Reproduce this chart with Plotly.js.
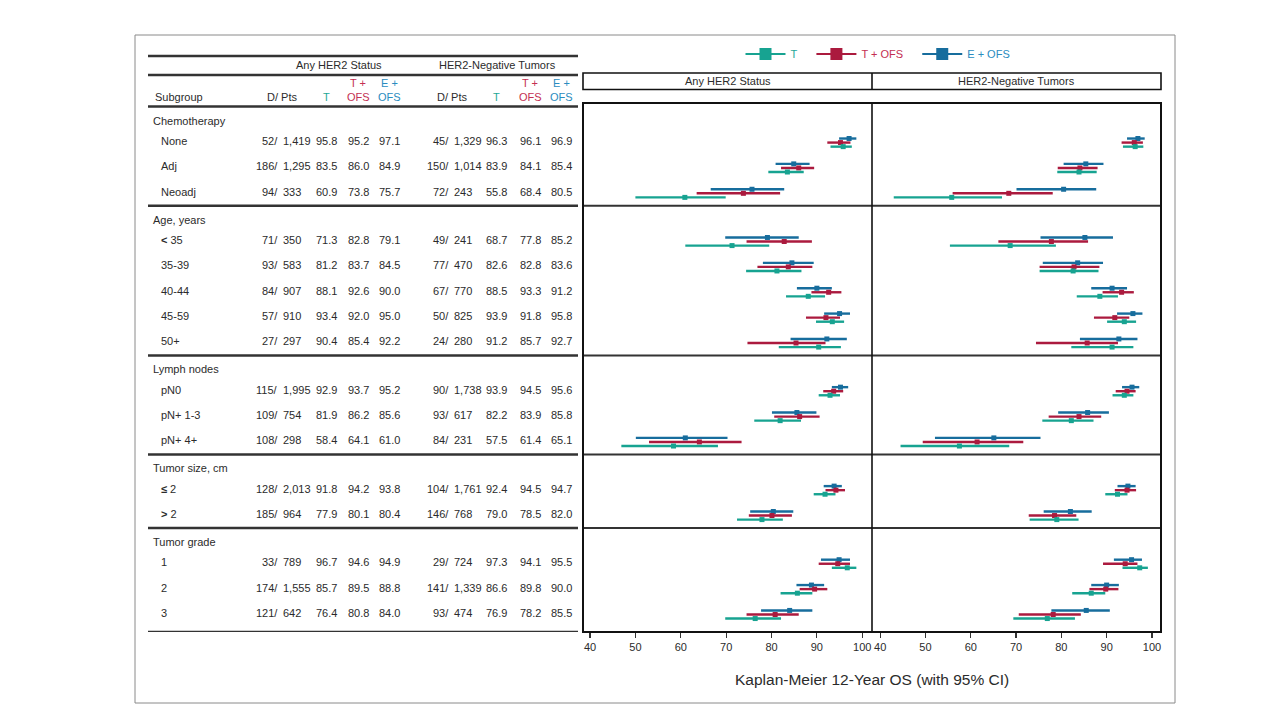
<!DOCTYPE html>
<html><head><meta charset="utf-8">
<script src="https://cdn.plot.ly/plotly-3.0.1.min.js"></script>
<style>html,body{margin:0;padding:0;background:#fff}#chart{width:1280px;height:720px}</style>
</head><body><div id="chart"></div>
<script>
// ---------- DATA ----------
const sectionNames = ['Chemotherapy', 'Age, years', 'Lymph nodes', 'Tumor size, cm', 'Tumor grade'];
const sectionCounts = [3, 5, 3, 2, 3];
const subgroups = ['None', 'Adj', 'Neoadj', '<b>&lt;</b> 35', '35-39', '40-44', '45-59', '50+',
  'pN0', 'pN+ 1-3', 'pN+ 4+', '<b>≤</b> 2', '<b>&gt;</b> 2', '1', '2', '3'];

// Any HER2 status
const anyD   = [52, 186, 94, 71, 93, 84, 57, 27, 115, 109, 108, 128, 185, 33, 174, 121];
const anyPts = [1419, 1295, 333, 350, 583, 907, 910, 297, 1995, 754, 298, 2013, 964, 789, 1555, 642];
const anyT   = [95.8, 83.5, 60.9, 71.3, 81.2, 88.1, 93.4, 90.4, 92.9, 81.9, 58.4, 91.8, 77.9, 96.7, 85.7, 76.4];
const anyTO  = [95.2, 86.0, 73.8, 82.8, 83.7, 92.6, 92.0, 85.4, 93.7, 86.2, 64.1, 94.2, 80.1, 94.6, 89.5, 80.8];
const anyEO  = [97.1, 84.9, 75.7, 79.1, 84.5, 90.0, 95.0, 92.2, 95.2, 85.6, 61.0, 93.8, 80.4, 94.9, 88.8, 84.0];
const anyTLo  = [93.0, 79.3, 50.0, 61.0, 74.4, 83.2, 89.8, 81.6, 90.4, 76.2, 46.9, 89.3, 72.4, 93.3, 82.0, 69.8];
const anyTHi  = [97.7, 87.1, 69.9, 79.5, 86.6, 91.8, 96.0, 95.3, 95.1, 86.5, 68.2, 94.1, 82.5, 98.7, 89.0, 82.1];
const anyTOLo = [92.3, 82.1, 63.5, 74.5, 76.9, 88.8, 87.6, 74.7, 91.4, 80.6, 53.0, 91.9, 75.0, 90.4, 86.2, 74.5];
const anyTOHi = [97.4, 89.4, 81.9, 88.9, 89.0, 95.4, 95.1, 91.9, 95.8, 90.6, 73.4, 96.2, 84.5, 97.3, 92.3, 86.0];
const anyEOLo = [94.9, 80.9, 66.6, 69.8, 78.1, 85.6, 91.6, 84.2, 93.3, 80.1, 50.1, 91.5, 75.3, 90.9, 85.5, 77.7];
const anyEOHi = [98.7, 88.4, 82.8, 86.0, 89.3, 93.3, 97.3, 96.6, 96.9, 89.9, 70.3, 95.5, 84.8, 97.3, 91.6, 89.0];

// HER2-negative tumors
const negD   = [45, 150, 72, 49, 77, 67, 50, 24, 90, 93, 84, 104, 146, 29, 141, 93];
const negPts = [1329, 1014, 243, 241, 470, 770, 825, 280, 1738, 617, 231, 1761, 768, 724, 1339, 474];
const negT   = [96.3, 83.9, 55.8, 68.7, 82.6, 88.5, 93.9, 91.2, 93.9, 82.2, 57.5, 92.4, 79.0, 97.3, 86.6, 76.9];
const negTO  = [96.1, 84.1, 68.4, 77.8, 82.8, 93.3, 91.8, 85.7, 94.5, 83.9, 61.4, 94.5, 78.5, 94.1, 89.8, 78.2];
const negEO  = [96.9, 85.4, 80.5, 85.2, 83.6, 91.2, 95.8, 92.7, 95.6, 85.8, 65.1, 94.7, 82.0, 95.5, 90.0, 85.5];
const negTLo  = [93.6, 79.1, 43.0, 55.4, 75.2, 83.4, 90.1, 82.2, 91.3, 75.8, 44.5, 89.7, 73.0, 93.5, 82.4, 69.4];
const negTHi  = [98.1, 87.8, 66.9, 78.8, 88.2, 92.5, 96.5, 95.9, 95.9, 87.1, 68.5, 94.6, 83.8, 99.1, 89.7, 83.0];
const negTOLo = [93.3, 79.2, 56.0, 66.1, 75.2, 89.1, 87.2, 74.4, 92.0, 77.2, 49.4, 91.8, 72.8, 89.2, 86.2, 70.6];
const negTOHi = [98.0, 88.0, 78.1, 85.9, 88.4, 96.0, 95.0, 92.5, 96.4, 88.8, 71.6, 96.5, 83.3, 96.8, 92.6, 84.3];
const negEOLo = [94.5, 80.5, 70.1, 75.4, 75.9, 86.6, 92.3, 84.1, 93.4, 79.3, 52.1, 92.4, 76.1, 91.6, 86.6, 77.8];
const negEOHi = [98.4, 89.3, 87.7, 91.4, 89.2, 94.5, 97.9, 96.8, 97.2, 90.5, 75.4, 96.4, 86.7, 97.8, 92.7, 90.7];

const xTicks = [40, 50, 60, 70, 80, 90, 100];
const panelTitles = ['Any HER2 Status', 'HER2-Negative Tumors'];
const legendNames = ['T', 'T + OFS', 'E + OFS'];
const xTitle = 'Kaplan-Meier 12-Year OS (with 95% CI)';

// ---------- STYLE / LAYOUT ----------
const W = 1280, H = 720;
const px = v => v / W, py = v => 1 - v / H;
const TEAL = '#17a391', RED = '#ab1a3e', BLUE = '#176d9d';
const TEAL_T = '#1fa898', RED_T = '#c42f52', BLUE_T = '#2a8cc0';
const INK = '#2b2b2b';
const FONT = 'Liberation Sans, Arial, sans-serif';

// row slots (in y-axis units)
const TOP_PAD = 0.15, BOTTOM_PAD = 0.2, HEADER_OFF = 0.55, FIRST_ROW = 1.35, SEC_PAD = 0.9;
let pos = TOP_PAD;
const headerY = [], rowY = [], ruleY = [];
sectionCounts.forEach(n => {
  const top = pos;
  headerY.push(top + HEADER_OFF);
  for (let k = 0; k < n; k++) rowY.push(top + FIRST_ROW + k);
  pos = top + n + SEC_PAD;
  ruleY.push(pos);
});
const yTotal = pos + BOTTOM_PAD;
ruleY[ruleY.length - 1] = yTotal;

const PLOT_L = 583, PLOT_M = 872, PLOT_R = 1161, PLOT_T = 103, PLOT_B = 632;

const series = [
  {color: BLUE, off: -0.1, any: [anyEO, anyEOLo, anyEOHi], neg: [negEO, negEOLo, negEOHi]},
  {color: RED, off: 0.06, any: [anyTO, anyTOLo, anyTOHi], neg: [negTO, negTOLo, negTOHi]},
  {color: TEAL, off: 0.22, any: [anyT, anyTLo, anyTHi], neg: [negT, negTLo, negTHi]}
];

const traces = [];
[['x', 'any'], ['x2', 'neg']].forEach(([xa, key]) => {
  series.forEach(s => {
    const [v, lo, hi] = s[key];
    traces.push({
      type: 'scatter', mode: 'markers', xaxis: xa, yaxis: 'y',
      x: v, y: rowY.map(r => r + s.off), showlegend: false, hoverinfo: 'x',
      marker: {symbol: 'square', size: 5, color: s.color},
      error_x: {type: 'data', symmetric: false,
        array: v.map((d, i) => +(hi[i] - d).toFixed(2)),
        arrayminus: v.map((d, i) => +(d - lo[i]).toFixed(2)),
        width: 0, thickness: 2.4, color: s.color}
    });
  });
});
// legend entries
const PAD = '&nbsp;&nbsp;&nbsp;';
[[TEAL, TEAL_T, PAD], [RED, RED_T, PAD], [BLUE, BLUE_T, '']].forEach(([c, tc, pad], i) => {
  traces.push({type: 'scatter', mode: 'lines+markers', x: [null], y: [null],
    name: `<span style="color:${tc}">${legendNames[i]}</span>${pad}`,
    line: {color: c, width: 2}, marker: {symbol: 'square', size: 12, color: c}});
});

// ---------- TABLE (annotations) ----------
const ann = [];
function t(text, x, y, yref, xanchor, extra) {
  ann.push(Object.assign({text, x: px(x), y: yref === 'paper' ? py(y) : y, xref: 'paper', yref,
    xanchor, yanchor: 'middle', showarrow: false,
    font: {family: FONT, size: 11, color: INK}}, extra || {}));
}
const fmt = n => n.toLocaleString('en-US');
const f1 = n => n.toFixed(1);
const cols = [
  {slash: 280, T: 326.5, TO: 358, EO: 389.5, D: anyD, P: anyPts, vT: anyT, vTO: anyTO, vEO: anyEO, head: 338.6, dp: 282},
  {slash: 451, T: 496.7, TO: 530, EO: 561, D: negD, P: negPts, vT: negT, vTO: negTO, vEO: negEO, head: 497, dp: 452}
];
// headers
t('Subgroup', 153, 97, 'paper', 'left');
cols.forEach((c, i) => {
  t(panelTitles[i], c.head, 65, 'paper', 'center');
  t('D/ Pts', c.dp, 97, 'paper', 'center');
  t('T', c.T, 97, 'paper', 'center', {font: {family: FONT, size: 11, color: TEAL_T}});
  t('T +', c.TO, 83, 'paper', 'center', {font: {family: FONT, size: 11, color: RED_T}});
  t('OFS', c.TO, 97, 'paper', 'center', {font: {family: FONT, size: 11, color: RED_T}});
  t('E +', c.EO, 83, 'paper', 'center', {font: {family: FONT, size: 11, color: BLUE_T}});
  t('OFS', c.EO, 97, 'paper', 'center', {font: {family: FONT, size: 11, color: BLUE_T}});
});
sectionNames.forEach((s, i) => t(s, 151, headerY[i], 'y', 'left'));
subgroups.forEach((g, i) => {
  t(g, 159, rowY[i], 'y', 'left');
  cols.forEach(c => {
    t(c.D[i] + '/', c.slash, rowY[i], 'y', 'right');
    t(fmt(c.P[i]), c.slash + 0.5, rowY[i], 'y', 'left');
    t(f1(c.vT[i]), c.T, rowY[i], 'y', 'center');
    t(f1(c.vTO[i]), c.TO, rowY[i], 'y', 'center');
    t(f1(c.vEO[i]), c.EO, rowY[i], 'y', 'center');
  });
});
// strip titles and x title
t(panelTitles[0], (PLOT_L + PLOT_M) / 2, 81, 'paper', 'center');
t(panelTitles[1], (PLOT_M + PLOT_R) / 2, 81, 'paper', 'center');
t(xTitle, PLOT_M, 679, 'paper', 'center',
  {font: {family: FONT, size: 15.5, color: INK}});

// ---------- SHAPES ----------
const shapes = [];
function line(x0, x1, y0, y1, yref, w, c) {
  shapes.push({type: 'line', xref: 'paper', yref,
    x0: px(x0), x1: px(x1),
    y0: yref === 'paper' ? py(y0) : y0, y1: yref === 'paper' ? py(y1) : y1,
    line: {color: c, width: w}});
}
function rect(x0, x1, y0, y1, w, c) {
  shapes.push({type: 'rect', xref: 'paper', yref: 'paper', x0: px(x0), x1: px(x1), y0: py(y1), y1: py(y0),
    line: {color: c, width: w}, fillcolor: 'rgba(0,0,0,0)'});
}
rect(135, 1175, 35, 703, 1, '#8a8a8a');
// table rules
[56, 75, 106.5].forEach(y => line(148, 578, y, y, 'paper', 2.5, '#333'));
ruleY.forEach(y => line(148, 578, y, y, 'y', 2.5, '#333'));
// strips
rect(PLOT_L, PLOT_R, 73, 89.5, 1.6, '#111');
line(PLOT_M, PLOT_M, 73, 89.5, 'paper', 1.6, '#111');
// plot frame
ruleY.slice(0, -1).forEach(y => line(PLOT_L, PLOT_R, y, y, 'y', 2, '#333'));
rect(PLOT_L, PLOT_R, PLOT_T, PLOT_B, 2, '#111');
line(PLOT_M, PLOT_M, PLOT_T, PLOT_B, 'paper', 1.6, '#111');

// ---------- AXES ----------
const xBase = {
  showgrid: false, zeroline: false, showline: false, ticks: 'outside', ticklen: 5, tickwidth: 1.2,
  tickcolor: '#333', tickvals: xTicks, ticktext: xTicks.map(String),
  tickfont: {family: FONT, size: 11, color: INK}, anchor: 'y', fixedrange: true
};
const layout = {
  width: W, height: H, margin: {l: 0, r: 0, t: 0, b: 0}, autosize: false,
  paper_bgcolor: '#fff', plot_bgcolor: 'rgba(0,0,0,0)',
  font: {family: FONT, color: INK},
  xaxis: Object.assign({}, xBase, {domain: [px(PLOT_L), px(PLOT_M)], range: [38.45, 102.15]}),
  xaxis2: Object.assign({}, xBase, {domain: [px(PLOT_M), px(PLOT_R)], range: [38.2, 102.0]}),
  yaxis: {domain: [py(PLOT_B), py(PLOT_T)], range: [yTotal, 0], visible: false, fixedrange: true},
  showlegend: true,
  legend: {orientation: 'h', x: px(878), xanchor: 'center', y: py(54), yanchor: 'middle',
    font: {family: FONT, size: 11}, bgcolor: 'rgba(0,0,0,0)', itemwidth: 40, traceorder: 'normal'},
  annotations: ann, shapes
};
Plotly.newPlot('chart', traces, layout, {displayModeBar: false, staticPlot: true});
</script>
</body></html>
